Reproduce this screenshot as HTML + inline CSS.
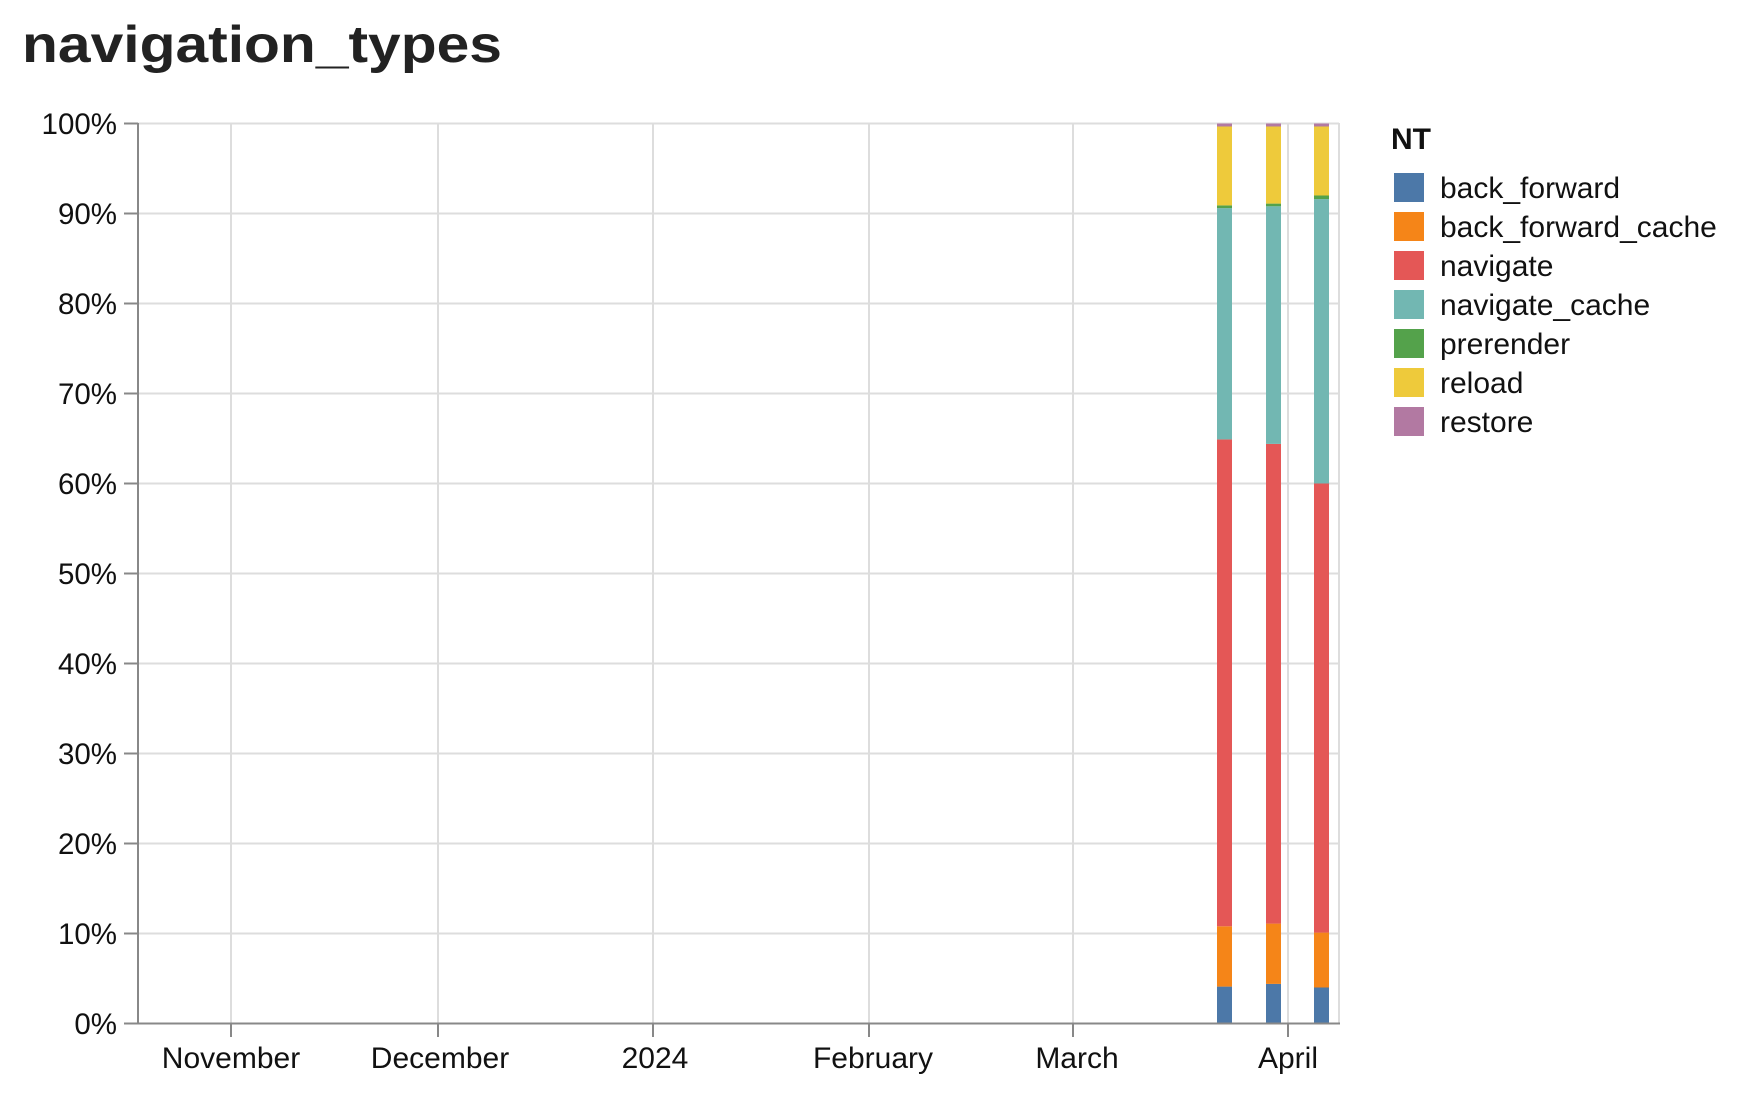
<!DOCTYPE html>
<html><head><meta charset="utf-8"><style>
html,body{margin:0;padding:0;background:#fff;}
svg{display:block;font-family:"Liberation Sans",sans-serif;}
</style></head><body>
<svg width="1738" height="1108" xmlns="http://www.w3.org/2000/svg">
<text x="22" y="62" font-size="52" font-weight="bold" fill="#222" textLength="480" lengthAdjust="spacingAndGlyphs">navigation_types</text>
<g stroke="#ddd" stroke-width="2">
<line x1="138" y1="123.5" x2="1339" y2="123.5"/>
<line x1="138" y1="213.5" x2="1339" y2="213.5"/>
<line x1="138" y1="303.5" x2="1339" y2="303.5"/>
<line x1="138" y1="393.5" x2="1339" y2="393.5"/>
<line x1="138" y1="483.5" x2="1339" y2="483.5"/>
<line x1="138" y1="573.5" x2="1339" y2="573.5"/>
<line x1="138" y1="663.5" x2="1339" y2="663.5"/>
<line x1="138" y1="753.5" x2="1339" y2="753.5"/>
<line x1="138" y1="843.5" x2="1339" y2="843.5"/>
<line x1="138" y1="933.5" x2="1339" y2="933.5"/>
<line x1="231" y1="123" x2="231" y2="1023"/>
<line x1="438" y1="123" x2="438" y2="1023"/>
<line x1="653" y1="123" x2="653" y2="1023"/>
<line x1="869" y1="123" x2="869" y2="1023"/>
<line x1="1073" y1="123" x2="1073" y2="1023"/>
<line x1="1288" y1="123" x2="1288" y2="1023"/>
<line x1="1339" y1="123" x2="1339" y2="1023"/>
</g>
<g>
<rect x="1217" y="986.6" width="15" height="36.9" fill="#4c78a8"/>
<rect x="1217" y="926.3" width="15" height="60.3" fill="#f58518"/>
<rect x="1217" y="439.4" width="15" height="486.9" fill="#e45756"/>
<rect x="1217" y="208.1" width="15" height="231.3" fill="#72b7b2"/>
<rect x="1217" y="205.4" width="15" height="2.7" fill="#54a24b"/>
<rect x="1217" y="126.5" width="15" height="78.9" fill="#eeca3b"/>
<rect x="1217" y="123.5" width="15" height="3" fill="#b279a2"/>

<rect x="1266" y="983.9" width="15" height="39.6" fill="#4c78a8"/>
<rect x="1266" y="923.6" width="15" height="60.3" fill="#f58518"/>
<rect x="1266" y="443.9" width="15" height="479.7" fill="#e45756"/>
<rect x="1266" y="206.3" width="15" height="237.6" fill="#72b7b2"/>
<rect x="1266" y="203.6" width="15" height="2.7" fill="#54a24b"/>
<rect x="1266" y="126.5" width="15" height="77.1" fill="#eeca3b"/>
<rect x="1266" y="123.5" width="15" height="3" fill="#b279a2"/>

<rect x="1314" y="987.5" width="15" height="36" fill="#4c78a8"/>
<rect x="1314" y="932.6" width="15" height="54.9" fill="#f58518"/>
<rect x="1314" y="483.5" width="15" height="449.1" fill="#e45756"/>
<rect x="1314" y="199.1" width="15" height="284.4" fill="#72b7b2"/>
<rect x="1314" y="195.5" width="15" height="3.6" fill="#54a24b"/>
<rect x="1314" y="126.5" width="15" height="69" fill="#eeca3b"/>
<rect x="1314" y="123.5" width="15" height="3" fill="#b279a2"/>
</g>
<g stroke="#888" stroke-width="2">
<line x1="138" y1="123" x2="138" y2="1024"/>
<line x1="137" y1="1023.5" x2="1340" y2="1023.5"/>
<line x1="124" y1="123.5" x2="138" y2="123.5"/>
<line x1="124" y1="213.5" x2="138" y2="213.5"/>
<line x1="124" y1="303.5" x2="138" y2="303.5"/>
<line x1="124" y1="393.5" x2="138" y2="393.5"/>
<line x1="124" y1="483.5" x2="138" y2="483.5"/>
<line x1="124" y1="573.5" x2="138" y2="573.5"/>
<line x1="124" y1="663.5" x2="138" y2="663.5"/>
<line x1="124" y1="753.5" x2="138" y2="753.5"/>
<line x1="124" y1="843.5" x2="138" y2="843.5"/>
<line x1="124" y1="933.5" x2="138" y2="933.5"/>
<line x1="124" y1="1023.5" x2="138" y2="1023.5"/>
<line x1="231" y1="1023" x2="231" y2="1037"/>
<line x1="438" y1="1023" x2="438" y2="1037"/>
<line x1="653" y1="1023" x2="653" y2="1037"/>
<line x1="869" y1="1023" x2="869" y2="1037"/>
<line x1="1073" y1="1023" x2="1073" y2="1037"/>
<line x1="1288" y1="1023" x2="1288" y2="1037"/>
</g>
<g font-size="29.5" fill="#111" text-anchor="end">
<text x="117" y="134">100%</text>
<text x="117" y="224">90%</text>
<text x="117" y="314">80%</text>
<text x="117" y="404">70%</text>
<text x="117" y="494">60%</text>
<text x="117" y="584">50%</text>
<text x="117" y="674">40%</text>
<text x="117" y="764">30%</text>
<text x="117" y="854">20%</text>
<text x="117" y="944">10%</text>
<text x="117" y="1034">0%</text>
</g>
<g font-size="30" fill="#111" text-anchor="middle">
<text x="231" y="1068">November</text>
<text x="440" y="1068">December</text>
<text x="655" y="1068">2024</text>
<text x="873" y="1068">February</text>
<text x="1077" y="1068">March</text>
<text x="1288" y="1068">April</text>
</g>
<text x="1391" y="149" font-size="30" font-weight="bold" fill="#111">NT</text>
<g font-size="30" fill="#111">
<rect x="1394" y="173" width="30" height="29" fill="#4c78a8"/><text x="1440" y="198">back_forward</text>
<rect x="1394" y="212" width="30" height="29" fill="#f58518"/><text x="1440" y="237">back_forward_cache</text>
<rect x="1394" y="251" width="30" height="29" fill="#e45756"/><text x="1440" y="276">navigate</text>
<rect x="1394" y="290" width="30" height="29" fill="#72b7b2"/><text x="1440" y="315">navigate_cache</text>
<rect x="1394" y="329" width="30" height="29" fill="#54a24b"/><text x="1440" y="354">prerender</text>
<rect x="1394" y="368" width="30" height="29" fill="#eeca3b"/><text x="1440" y="393">reload</text>
<rect x="1394" y="407" width="30" height="29" fill="#b279a2"/><text x="1440" y="432">restore</text>
</g>
</svg>
</body></html>
